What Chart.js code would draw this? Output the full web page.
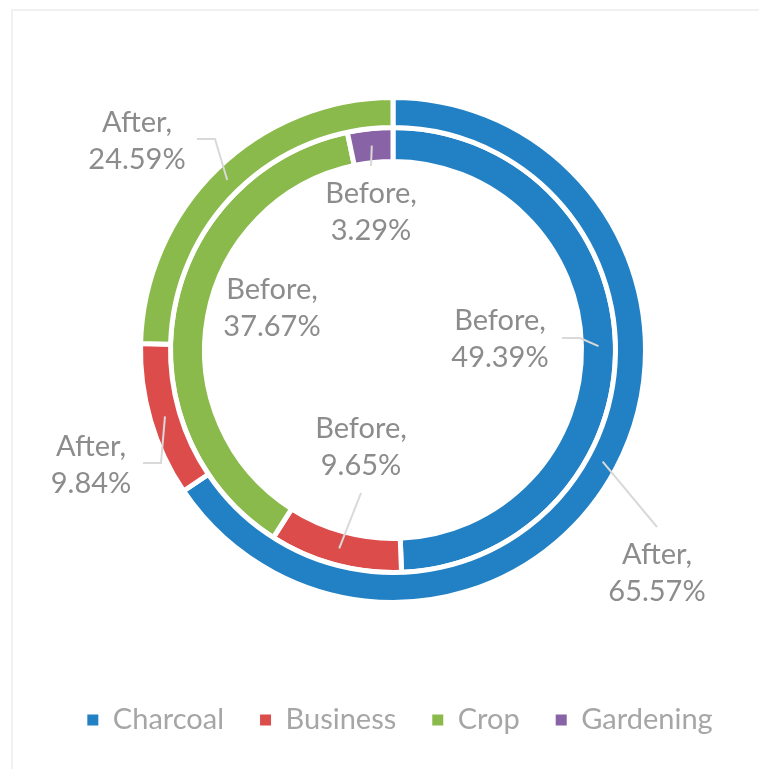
<!DOCTYPE html>
<html>
<head>
<meta charset="utf-8">
<script src="https://cdn.jsdelivr.net/npm/chart.js@4/dist/chart.umd.min.js"></script>
<style>
  html, body { margin: 0; padding: 0; background: #ffffff; overflow: hidden; }
  #frame { position: absolute; left: 11px; top: 9px; width: 900px; height: 900px;
           border: 2px solid #f1f1f1; box-sizing: border-box; }
  #wrap { position: absolute; left: 0; top: 0; width: 759px; height: 769px; }
</style>
</head>
<body>
<div id="frame"></div>
<div id="wrap"><canvas id="c" width="759" height="769"></canvas></div>
<script>
// ---- data ----
const categories = ['Charcoal', 'Business', 'Crop', 'Gardening'];
const seriesNames = ['After', 'Before'];
const afterValues = [65.57, 9.84, 24.59, 0];
const beforeValues = [49.39, 9.65, 37.67, 3.29];
const categoryColors = ['#2281C4', '#DC4C4B', '#8BBA4C', '#8863A6'];

// ---- label layout (offsets from chart centre, px) ----
const labelLayout = [
  { ds: 0, i: 0, dx: 264, dy: 223, leader: [[264, 177]] },
  { ds: 0, i: 1, dx: -302, dy: 115, leader: [[-250, 113], [-232, 113]] },
  { ds: 0, i: 2, dx: -256, dy: -209, leader: [[-196, -211], [-178, -211]] },
  { ds: 1, i: 0, dx: 107, dy: -11, leader: [[169, -12], [187, -12]] },
  { ds: 1, i: 1, dx: -32, dy: 97, leader: [[-32, 143]] },
  { ds: 1, i: 2, dx: -121, dy: -42, leader: null },
  { ds: 1, i: 3, dx: -22, dy: -138, leader: [[-22, -184]] }
];

const FONT = 'Lato, "Liberation Sans", sans-serif';

const labelPlugin = {
  id: 'ringLabels',
  afterDatasetsDraw(chart) {
    const ctx = chart.ctx;
    ctx.save();
    labelLayout.forEach(L => {
      const arc = chart.getDatasetMeta(L.ds).data[L.i];
      const cx = arc.x, cy = arc.y;
      const value = chart.data.datasets[L.ds].data[L.i];
      if (L.leader) {
        const p = arc.tooltipPosition();
        ctx.beginPath();
        ctx.strokeStyle = '#d9d9d9';
        ctx.lineWidth = 2;
        ctx.moveTo(cx + L.leader[0][0], cy + L.leader[0][1]);
        for (let k = 1; k < L.leader.length; k++) ctx.lineTo(cx + L.leader[k][0], cy + L.leader[k][1]);
        ctx.lineTo(p.x, p.y);
        ctx.stroke();
      }
      ctx.fillStyle = '#8c8c8c';
      ctx.font = '29px ' + FONT;
      ctx.textAlign = 'center';
      ctx.textBaseline = 'middle';
      ctx.fillText(chart.data.datasets[L.ds].label + ',', cx + L.dx, cy + L.dy - 18.5);
      ctx.fillText(value.toFixed(2) + '%', cx + L.dx, cy + L.dy + 18.5);
    });
    ctx.restore();
  }
};

const legendShift = {
  id: 'legendShift',
  afterLayout(chart) {
    chart.legend.left += 7;
    chart.legend.right += 7;
  }
};

new Chart(document.getElementById('c'), {
  type: 'doughnut',
  data: {
    labels: categories,
    datasets: [
      { label: seriesNames[0], data: afterValues, backgroundColor: categoryColors,
        borderColor: '#ffffff', borderWidth: 5, weight: 30 },
      { label: seriesNames[1], data: beforeValues, backgroundColor: categoryColors,
        borderColor: '#ffffff', borderWidth: 5, weight: 34 }
    ]
  },
  options: {
    responsive: false,
    animation: false,
    radius: 252.5,
    cutout: '74.65%',
    layout: { padding: { left: 27, right: 0, top: 30.5, bottom: 24.5 } },
    plugins: {
      tooltip: { enabled: false },
      legend: {
        position: 'bottom',
        labels: {
          font: { family: FONT, size: 29 },
          color: '#a6a6a6',
          boxWidth: 11,
          boxHeight: 11,
          padding: 36,
          generateLabels(chart) {
            return chart.data.labels.map((t, i) => ({
              text: t, fillStyle: categoryColors[i], strokeStyle: categoryColors[i],
              lineWidth: 0, hidden: false, index: i, fontColor: '#a6a6a6'
            }));
          }
        }
      }
    }
  },
  plugins: [labelPlugin, legendShift]
});
</script>
</body>
</html>
